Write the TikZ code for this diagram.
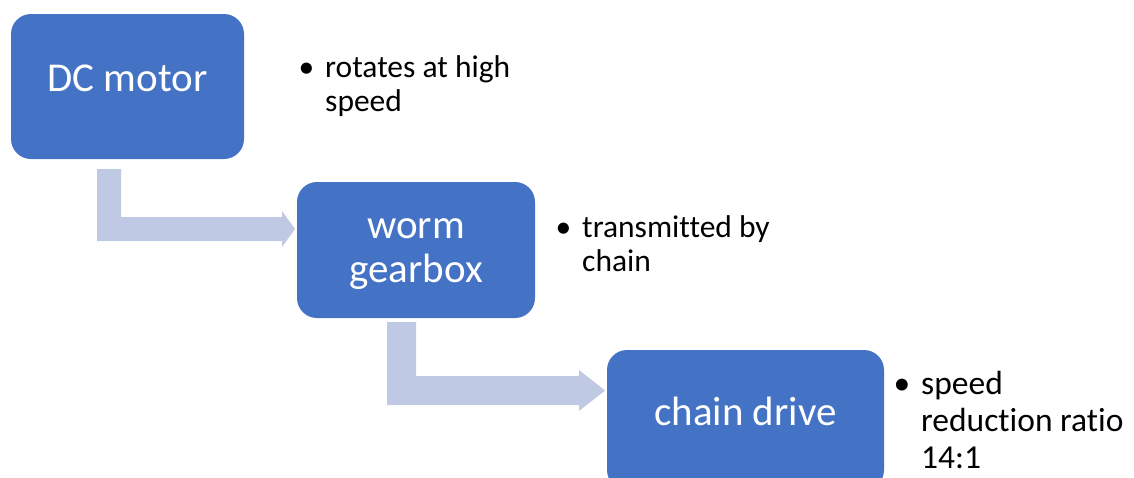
\documentclass[tikz,border=0pt]{standalone}
\usepackage{fontspec}
\setmainfont{Carlito}[Ligatures={NoCommon}]
\definecolor{boxblue}{HTML}{4472C4}
\definecolor{arrowfill}{RGB}{191,201,228}
\tikzset{
  boxshape/.style={fill=boxblue, draw=none, rounded corners=20pt, inner sep=0pt},
  boxtext/.style={text=white, inner sep=0pt, anchor=base, font=\fontsize{41}{44}\selectfont, align=center},
  notetext/.style={text=black, inner sep=0pt, anchor=base west},
  blockarrow/.style={fill=arrowfill, draw=none},
}
\newcommand{\bul}{\llap{\textbullet\hspace{11pt}}}
\begin{document}
\begin{tikzpicture}[x=1pt, y=-1pt]
\clip (0,0) rectangle (1134,477);
\useasboundingbox (0,0) rectangle (1134,477);
% boxes
\node[boxshape, minimum width=233pt, minimum height=145pt] (dc) at (127.5,86.5) {};
\node[boxshape, minimum width=238pt, minimum height=136pt] (worm) at (416,250) {};
\node[boxshape, minimum width=277pt, minimum height=140pt] (chain) at (745.5,420) {};
% box texts
\node[boxtext] (dctext) at (127.5,91) {DC motor};
\node[boxtext] (wormtext) at (416,238) {\begin{tabular}[t]{@{}c@{}}worm\\gearbox\end{tabular}};
\node[boxtext] (chaintext) at (745.5,425) {chain drive};
% block arrows
\fill[blockarrow] (97,169) -- (121,169) -- (121,217) -- (282,217) -- (282,211) -- (295,229) -- (282,247) -- (282,241) -- (97,241) -- cycle;
\fill[blockarrow] (387,322) -- (416,322) -- (416,376) -- (579,376) -- (579,370) -- (605,390.5) -- (579,411) -- (579,405) -- (387,405) -- cycle;
% notes
\node[notetext, font=\fontsize{31.5}{34}\selectfont] (n1) at (325,77) {\begin{tabular}[t]{@{}l@{}}\bul rotates at high\\speed\end{tabular}};
\node[notetext, font=\fontsize{31.5}{34}\selectfont] (n2) at (582,237) {\begin{tabular}[t]{@{}l@{}}\bul transmitted by\\chain\end{tabular}};
\node[notetext, font=\fontsize{33.5}{37}\selectfont] (n3) at (921,394) {\begin{tabular}[t]{@{}l@{}}\bul speed\\reduction ratio\\14:1\end{tabular}};
\end{tikzpicture}
\end{document}
